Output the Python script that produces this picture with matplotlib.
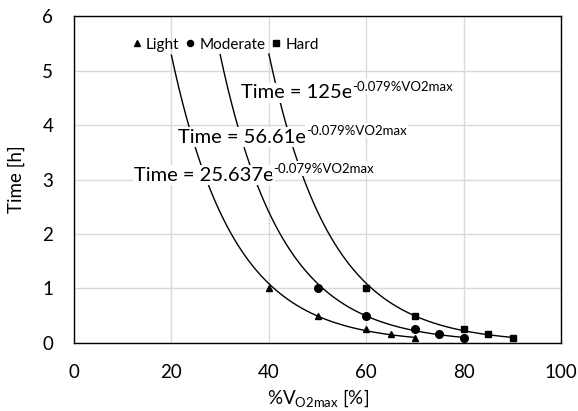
import matplotlib.pyplot as plt
import numpy as np

plt.rcParams["font.family"] = ["Lato", "DejaVu Sans"]
plt.rcParams["mathtext.fontset"] = "custom"
plt.rcParams["mathtext.rm"] = "Lato"

# data
light_x = [40, 50, 60, 65, 70]
light_y = [1.0, 0.5, 0.25, 0.167, 0.083]
moderate_x = [50, 60, 70, 75, 80]
moderate_y = [1.0, 0.5, 0.25, 0.167, 0.1]
hard_x = [60, 70, 80, 85, 90]
hard_y = [1.0, 0.5, 0.25, 0.167, 0.1]

# exponential trendlines shown on the chart
fit_coef = [25.637, 56.61, 125]
fit_rate = -0.079
fit_range = [(20, 70), (30, 80), (40, 90)]
fit_labels = ["25.637", "56.61", "125"]
fit_exponent = "-0.079%VO2max"
label_pos = [(12.3, 3.08), (21.4, 3.78), (34.3, 4.59)]

fig = plt.figure(figsize=(5.78, 4.11), dpi=100)
ax = fig.add_axes([0.128, 0.1655, 0.843, 0.7955])

for a, (x0, x1) in zip(fit_coef, fit_range):
    xs = np.linspace(x0, x1, 200)
    ax.plot(xs, a * np.exp(fit_rate * xs), color="black", linewidth=1.0, zorder=2)

ax.plot(light_x, light_y, "^", color="black", markersize=5, linestyle="none", label="Light", zorder=3)
ax.plot(moderate_x, moderate_y, "o", color="black", markersize=5.5, linestyle="none", label="Moderate", zorder=3)
ax.plot(hard_x, hard_y, "s", color="black", markersize=5, linestyle="none", label="Hard", zorder=3)

ax.set_xlim(0, 100)
ax.set_ylim(0, 6)
ax.set_xticks([0, 20, 40, 60, 80, 100])
ax.set_yticks([0, 1, 2, 3, 4, 5, 6])
ax.tick_params(axis="x", labelsize=13.5, length=0, pad=15)
ax.tick_params(axis="y", labelsize=13.5, length=0, pad=15)
ax.grid(True, color="#d9d9d9", linewidth=1.0)
ax.set_axisbelow(True)
for sp in ax.spines.values():
    sp.set_color("black")
    sp.set_linewidth(1.0)

ax.set_xlabel(r"%V$_{\mathregular{O2max}}$ [%]", fontsize=13.5, labelpad=5)
ax.set_ylabel("Time [h]", fontsize=13.5, labelpad=12)

mains = []
for lab, (tx, ty) in zip(fit_labels, label_pos):
    t = ax.text(tx, ty, "Time = " + lab + "e", fontsize=14.5, va="center", ha="left", zorder=5,
                bbox=dict(facecolor="white", edgecolor="none", pad=1.0))
    mains.append(t)

# superscript exponent placed right after each main label
fig.canvas.draw()
renderer = fig.canvas.get_renderer()
inv = ax.transData.inverted()
for t in mains:
    bb = t.get_window_extent(renderer)
    sx, sy = inv.transform((bb.x1, bb.y0 + 0.52 * bb.height))
    ax.text(sx, sy, fit_exponent, fontsize=9.5, va="bottom", ha="left", zorder=5,
            bbox=dict(facecolor="white", edgecolor="none", pad=1.0))

leg = ax.legend(loc="center left", bbox_to_anchor=(0.107, 0.912), ncol=3, frameon=False,
                fontsize=11, handlelength=0.6, handletextpad=0.3, columnspacing=0.4,
                markerscale=0.8, borderaxespad=0)
leg.set_zorder(6)

fig.savefig("out.png", dpi=100)
